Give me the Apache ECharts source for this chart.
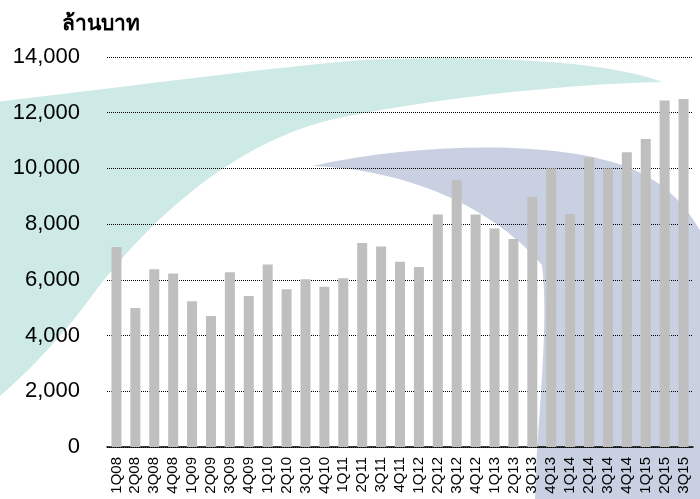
<!DOCTYPE html>
<html>
<head>
<meta charset="utf-8">
<script src="https://cdn.jsdelivr.net/npm/echarts@6/dist/echarts.min.js"></script>
<style>
  html, body { margin: 0; padding: 0; background: #fff; }
  #chart { width: 700px; height: 499px; }
</style>
</head>
<body>
<div id="chart"></div>
<script>
// ไตรมาส
const quarters = [
  '1Q08', '2Q08', '3Q08', '4Q08', '1Q09', '2Q09', '3Q09', '4Q09',
  '1Q10', '2Q10', '3Q10', '4Q10', '1Q11', '2Q11', '3Q11', '4Q11',
  '1Q12', '2Q12', '3Q12', '4Q12', '1Q13', '2Q13', '3Q13', '4Q13',
  '1Q14', '2Q14', '3Q14', '4Q14', '1Q15', '2Q15', '3Q15'
];

// ล้านบาท (อ่านจากภาพ)
const revenue = [
  7180, 4990, 6380, 6230, 5230, 4700, 6270, 5420,
  6550, 5660, 6020, 5750, 6060, 7320, 7200, 6650,
  6460, 8350, 9580, 8350, 7840, 7470, 8980, 10000,
  8360, 10390, 10000, 10580, 11060, 12440, 12490
];

const yTicks = [0, 2000, 4000, 6000, 8000, 10000, 12000, 14000];

// ลายน้ำพื้นหลัง (โลโก้จาง ๆ)
echarts.graphic.registerShape('tealSwoosh', echarts.graphic.extendPath(
  'M -5 102 C 100 90, 250 70, 350 61 C 450 55, 600 58, 662 82 ' +
  'C 560 84, 420 100, 330 120 C 230 145, 150 220, 94 293 C 60 340, 20 380, -5 400 Z'
));
echarts.graphic.registerShape('blueSwoosh', echarts.graphic.extendPath(
  'M 312 166 C 420 142, 560 140, 630 168 C 670 185, 690 210, 705 240 L 705 505 L 535 505 ' +
  'C 535 440, 550 330, 542 265 C 500 215, 420 170, 312 166 Z'
));

const chart = echarts.init(document.getElementById('chart'));

const option = {
  backgroundColor: '#fff',
  animation: false,
  title: {
    text: 'ล้านบาท',
    left: 57,
    top: 9,
    textStyle: {
      fontFamily: 'Liberation Sans, Arial, sans-serif',
      fontSize: 21,
      fontWeight: 'bold',
      color: '#000'
    }
  },
  graphic: [
    { type: 'tealSwoosh', z: -10, style: { fill: '#cdeae6' } },
    { type: 'blueSwoosh', z: -10, style: { fill: '#c9d0e1' } }
  ],
  grid: {
    left: 107,
    right: 7,
    top: 57,
    bottom: 52,
    containLabel: false
  },
  xAxis: {
    type: 'category',
    data: quarters,
    axisLine: {
      show: true,
      lineStyle: { color: '#000', width: 1.5 }
    },
    axisTick: { show: false },
    axisLabel: {
      interval: 0,
      rotate: 90,
      margin: 10,
      fontFamily: 'Liberation Sans, Arial, sans-serif',
      fontSize: 15,
      color: '#000'
    }
  },
  yAxis: {
    type: 'value',
    min: yTicks[0],
    max: yTicks[yTicks.length - 1],
    interval: 2000,
    axisLine: { show: false },
    axisTick: { show: false },
    axisLabel: {
      margin: 27,
      fontFamily: 'Liberation Sans, Arial, sans-serif',
      fontSize: 22,
      color: '#000',
      formatter: function (value) {
        return value.toLocaleString('en-US');
      }
    },
    splitLine: {
      show: true,
      lineStyle: { color: '#000', width: 1, type: [1, 1] }
    }
  },
  series: [
    {
      type: 'bar',
      data: revenue,
      barWidth: 10,
      itemStyle: { color: '#bfbfbf' }
    }
  ]
};

chart.setOption(option);
</script>
</body>
</html>
